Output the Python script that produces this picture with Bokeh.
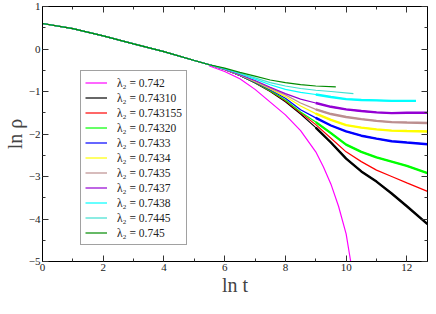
from bokeh.plotting import figure
from bokeh.models import (LinearAxis, SingleIntervalTicker, Legend, LegendItem,
                          Range1d, CustomJSTickFormatter)
from bokeh.embed import file_html
from bokeh.resources import INLINE

# ---------------- data ----------------
t_common = [0, 1, 2, 3, 4, 5, 5.5]
rho_common = [0.6, 0.48, 0.31, 0.12, -0.06, -0.27, -0.37]

t_long = [6, 6.5, 7, 7.5, 8, 8.5, 9, 9.5, 10, 10.5, 11, 11.5, 12, 12.68]

# lambda2 = 0.742 (magenta)
t_742 = [5.5, 6, 6.5, 7, 7.5, 8, 8.5, 9, 9.25, 9.5, 9.75, 10, 10.15]
rho_742 = [-0.40, -0.53, -0.70, -0.95, -1.25, -1.55, -1.92, -2.42, -2.77, -3.18, -3.7, -4.35, -5.0]

rho_74310 = [-0.48, -0.62, -0.80, -1.00, -1.24, -1.53, -1.85, -2.2, -2.58, -2.88, -3.12, -3.4, -3.7, -4.12]
rho_743155 = [-0.48, -0.62, -0.79, -0.99, -1.22, -1.50, -1.78, -2.1, -2.42, -2.65, -2.85, -3.0, -3.15, -3.35]
rho_74320 = [-0.48, -0.62, -0.79, -0.98, -1.20, -1.48, -1.72, -1.98, -2.25, -2.42, -2.55, -2.65, -2.75, -2.92]
rho_7433 = [-0.48, -0.62, -0.78, -0.96, -1.16, -1.43, -1.62, -1.80, -1.94, -2.04, -2.11, -2.17, -2.2, -2.24]
rho_7434 = [-0.48, -0.61, -0.77, -0.94, -1.12, -1.34, -1.52, -1.67, -1.79, -1.85, -1.89, -1.92, -1.93, -1.94]
rho_7435 = [-0.48, -0.61, -0.76, -0.92, -1.08, -1.27, -1.42, -1.53, -1.60, -1.65, -1.69, -1.72, -1.73, -1.74]
rho_7437 = [-0.48, -0.60, -0.74, -0.90, -1.05, -1.18, -1.27, -1.36, -1.42, -1.46, -1.49, -1.51, -1.50, -1.50]

t_7438 = [6, 6.5, 7, 7.5, 8, 8.5, 9, 9.5, 10, 10.5, 11, 11.5, 12, 12.3]
rho_7438 = [-0.47, -0.58, -0.71, -0.84, -0.95, -1.02, -1.07, -1.13, -1.18, -1.2, -1.21, -1.22, -1.22, -1.22]

t_7445 = [6, 6.5, 7, 7.5, 8, 8.5, 9, 9.5, 10.24]
rho_7445 = [-0.46, -0.57, -0.68, -0.79, -0.87, -0.93, -0.97, -1.0, -1.05]

t_745 = [6, 6.5, 7, 7.5, 8, 8.5, 9, 9.66]
rho_745 = [-0.45, -0.55, -0.64, -0.73, -0.79, -0.84, -0.87, -0.89]

labels = ["0.742", "0.74310", "0.743155", "0.74320", "0.7433", "0.7434",
          "0.7435", "0.7437", "0.7438", "0.7445", "0.745"]
colors = ["#ff00ff", "#000000", "#ff0000", "#00ff00", "#0000ff", "#ffff00",
          "#bc8f8f", "#9400d3", "#00ffff", "#40e0d0", "#008b00"]
noisy = [False, True, False, True, True, True, True, True, True, False, False]

tails = [
    (t_742, rho_742),
    (t_long, rho_74310),
    (t_long, rho_743155),
    (t_long, rho_74320),
    (t_long, rho_7433),
    (t_long, rho_7434),
    (t_long, rho_7435),
    (t_long, rho_7437),
    (t_7438, rho_7438),
    (t_7445, rho_7445),
    (t_745, rho_745),
]

# ---------------- figure ----------------
p = figure(width=428, height=298, x_range=Range1d(0, 12.68), y_range=Range1d(-5, 1),
           output_backend="svg", toolbar_location=None,
           min_border_left=0, min_border_right=1, min_border_top=6, min_border_bottom=0)
p.xgrid.visible = False
p.ygrid.visible = False
p.outline_line_color = "black"
p.outline_line_width = 1
p.background_fill_color = "white"
p.border_fill_color = "white"

serif = "Liberation Serif"

def style_axis(ax, show_labels=True):
    ax.major_tick_in = 6
    ax.major_tick_out = 0
    ax.minor_tick_in = 3
    ax.minor_tick_out = 0
    ax.axis_line_color = "black"
    ax.major_tick_line_color = "#333333"
    ax.minor_tick_line_color = "#333333"
    ax.major_label_text_font = serif
    ax.major_label_text_font_size = "11px"
    ax.major_label_text_color = "#222222"
    ax.major_label_standoff = 2
    ax.axis_label_text_font = serif
    ax.axis_label_text_font_style = "normal"
    ax.axis_label_text_font_size = "20px"
    ax.axis_label_standoff = 0
    if not show_labels:
        ax.formatter = CustomJSTickFormatter(code="return ''")
        ax.major_label_text_font_size = "0px"
        ax.major_label_standoff = 0

p.xaxis[0].ticker = SingleIntervalTicker(interval=2, num_minor_ticks=2)
p.yaxis[0].ticker = SingleIntervalTicker(interval=1, num_minor_ticks=2)
style_axis(p.xaxis[0])
style_axis(p.yaxis[0])
p.xaxis[0].axis_label = "ln t"
p.yaxis[0].axis_label = "ln ρ"

top = LinearAxis(ticker=SingleIntervalTicker(interval=2, num_minor_ticks=2))
right = LinearAxis(ticker=SingleIntervalTicker(interval=1, num_minor_ticks=2))
style_axis(top, False)
style_axis(right, False)
p.add_layout(top, "above")
p.add_layout(right, "right")

items = []
for lab, col, nz, (tt, rr) in zip(labels, colors, noisy, tails):
    xs = t_common + tt
    ys = rho_common + rr
    r = p.line(xs, ys, line_color=col, line_width=1.2)
    if nz:
        sel = [i for i, v in enumerate(tt) if v >= 9]
        p.line([tt[i] for i in sel], [rr[i] for i in sel], line_color=col, line_width=2.4)
    items.append(LegendItem(label="λ₂ = " + lab, renderers=[r]))

legend = Legend(items=items, location=(38, 16))
legend.label_text_font = serif
legend.label_text_font_size = "11.5px"
legend.label_text_color = "#222222"
legend.label_height = 15
legend.glyph_height = 15
legend.glyph_width = 22
legend.label_standoff = 10
legend.spacing = 0
legend.padding = 4
legend.margin = 0
legend.border_line_color = "#444444"
legend.border_line_width = 1
legend.background_fill_color = "white"
legend.background_fill_alpha = 1
p.add_layout(legend, "center")

open("out.html", "w").write(file_html(p, INLINE))
